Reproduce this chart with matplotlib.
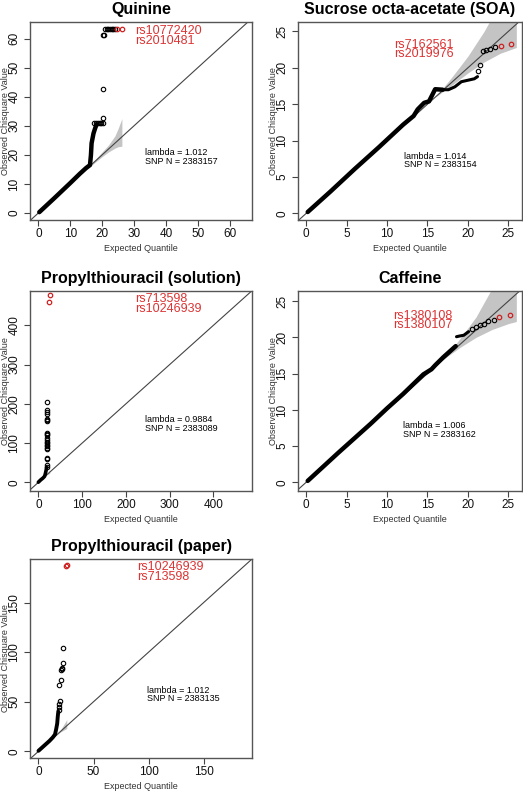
import matplotlib
matplotlib.use("Agg")
import matplotlib.pyplot as plt

plt.rcParams['font.family'] = ['Liberation Sans', 'DejaVu Sans']

# ---- Quinine ----
q_body_x = [0.3, 5, 10, 13, 15, 16.2, 16.5, 16.7, 17.3, 17.8, 18.3]
q_body_y = [0.3, 5.1, 10.3, 13.5, 15.5, 16.5, 20, 24, 27.4, 29.1, 30.6]
q_pts_x = [17.6, 18.2, 18.8, 19.3, 19.8, 20.2, 20.4, 20.4, 20.3, 20.7,
           21.0, 21.5, 22.0, 22.5, 23.0, 23.5, 24.1]
q_pts_y = [30.8, 30.8, 30.8, 30.8, 30.8, 30.8, 32.7, 42.5, 61.4, 61.4,
           63.3, 63.3, 63.3, 63.3, 63.3, 63.3, 63.3]
q_red_x = [24.8, 26.2]
q_red_y = [63.3, 63.3]
q_band_x = [15, 18, 20, 22, 24, 25, 26.2]
q_band_lo = [15, 17.6, 19.4, 21.0, 22.3, 22.8, 23.0]
q_band_hi = [15, 18.6, 21.0, 23.4, 26.5, 29.0, 32.5]

# ---- Sucrose octa-acetate ----
s_body_x = [0.2, 3, 6, 9, 12, 13.3, 13.8, 14.6, 15.2, 15.96, 16.9]
s_body_y = [0.2, 3.0, 6.1, 9.1, 12.2, 13.4, 14.3, 15.2, 15.4, 17.07, 17.0]
s_tail_x = [16.9, 17.6, 18.4, 19.2, 20.0, 20.8, 21.2]
s_tail_y = [17.0, 17.0, 17.4, 18.1, 18.3, 18.5, 18.8]
s_pts_x = [21.3, 21.5, 21.9, 22.3, 22.7, 23.3]
s_pts_y = [19.6, 20.4, 22.3, 22.5, 22.6, 22.8]
s_red_x = [24.1, 25.4]
s_red_y = [23.0, 23.25]
s_band_x = [16, 18, 20, 22, 24, 26]
s_band_lo = [16, 17.6, 19.3, 20.8, 22.0, 22.8]
s_band_hi = [16, 18.7, 21.6, 25.0, 29.0, 33.0]

# ---- Propylthiouracil (solution) ----
ps_body_x = [0, 5, 10, 14, 15, 16, 17, 18, 19]
ps_body_y = [0.5, 6, 10.5, 15, 18, 22, 27, 32, 38]
ps_pts_x = [19.5, 20, 19.8, 20.2, 19.6, 20, 20.3, 19.8, 20.1, 20, 19.7, 20.2,
            20, 19.9, 20.2, 19.8, 20, 20.1, 19.9, 20.2, 20.4, 20.8]
ps_pts_y = [40, 45, 60, 62, 85, 88, 92, 95, 100, 104, 108, 112,
            120, 124, 126, 155, 158, 162, 175, 180, 185, 205]
ps_red_x = [24.5, 25.7]
ps_red_y = [460, 476]
ps_band_x = [15, 20, 26]
ps_band_lo = [15, 19.5, 23]
ps_band_hi = [15, 21, 32]

# ---- Caffeine ----
c_body_x = [0.2, 4, 8, 10, 12, 14.5, 15.5, 16, 17, 18, 18.5]
c_body_y = [0.2, 4.1, 8.1, 10.2, 12.2, 14.9, 15.6, 16.2, 17.3, 18.3, 18.8]
c_tail_x = [18.6, 19.0, 19.5, 20.1]
c_tail_y = [20.1, 20.2, 20.3, 20.8]
c_pts_x = [20.5, 21.0, 21.5, 22.0, 22.5, 23.2]
c_pts_y = [21.1, 21.4, 21.7, 21.9, 22.2, 22.4]
c_red_x = [23.9, 25.2]
c_red_y = [22.8, 23.1]
c_band_x = [17, 19, 21, 23, 25, 26]
c_band_lo = [17, 18.6, 20.0, 21.1, 21.9, 22.2]
c_band_hi = [17, 19.8, 22.8, 26.8, 31.0, 33.0]

# ---- Propylthiouracil (paper) ----
pp_body_x = [0, 5, 10, 13, 15, 16, 17, 17.5, 18]
pp_body_y = [0.5, 5.5, 10.5, 14, 17, 22, 28, 35, 40]
pp_pts_x = [18.3, 18.6, 19.0, 19.5, 18.6, 20.1, 20.1, 21.2, 21.7, 22.3, 22.6]
pp_pts_y = [42, 45, 48, 50.5, 67.3, 72.4, 82.5, 83, 84.2, 89.3, 104.4]
pp_red_x = [24.8, 26.3]
pp_red_y = [187, 187.7]
pp_band_x = [15, 20, 25.7]
pp_band_lo = [15, 19.5, 23]
pp_band_hi = [15, 21.5, 32]

fig = plt.figure(figsize=(5.23, 7.92), dpi=100)


def qq_panel(rect, title, lims, ticks, body_x, body_y, pts_x, pts_y, red_x, red_y,
             band_x, band_lo, band_hi, snps, lam, nsnp, red_pos, lam_pos,
             tail_x=None, tail_y=None, body_lw=3.2, red_gap=0.8):
    ax = fig.add_axes(rect)
    xl, yl = lims
    ax.fill_between(band_x, band_lo, band_hi, color="#c4c4c4", lw=0, zorder=1)
    ax.plot([-1000, 1000], [-1000, 1000], color="#444444", lw=0.8, zorder=2)
    ax.plot(body_x, body_y, color="black", lw=body_lw, solid_capstyle="round", zorder=3)
    if tail_x is not None:
        ax.plot(tail_x, tail_y, color="black", lw=2.2, solid_capstyle="round", zorder=3)
    ax.plot(pts_x, pts_y, "o", mfc="none", mec="black", ms=3.2, mew=0.8, zorder=4)
    ax.plot(red_x, red_y, "o", mfc="none", mec="#cc2222", ms=3.2, mew=0.9, zorder=5)
    ax.set_xlim(xl)
    ax.set_ylim(yl)
    ax.set_xticks(ticks)
    ax.set_yticks(ticks)
    for lab in ax.get_yticklabels():
        lab.set_rotation(90)
        lab.set_va("center")
    ax.tick_params(labelsize=8.5, length=4, width=0.8, color="#444444",
                   labelcolor="#111111")
    ax.tick_params(axis="y", pad=3)
    ax.tick_params(axis="x", pad=2)
    for s in ax.spines.values():
        s.set_color("#555555")
        s.set_linewidth(1.0)
    ax.set_title(title, fontsize=11.5, fontweight="bold", pad=6)
    ax.set_xlabel("Expected Quantile", fontsize=6.5, color="#333333")
    ax.set_ylabel("Observed Chisquare Value", fontsize=6.5, color="#333333")
    h = rect[3] * 792
    w = rect[2] * 523
    ax.xaxis.set_label_coords(0.5, -28.0 / h)
    ax.yaxis.set_label_coords(-25.0 / w, 0.5)
    for lab in (ax.xaxis.label, ax.yaxis.label):
        lab.set_va("center")
    rx, ry = red_pos
    ax.text(rx, ry, snps[0] + "\n" + snps[1], color="#dd3333", fontsize=9,
            va="center", ha="left", linespacing=red_gap)
    lx, ly = lam_pos
    ax.text(lx, ly, "lambda = " + lam + "\nSNP N = " + nsnp, fontsize=6.5,
            va="center", ha="left", linespacing=0.95)
    return ax


qq_panel([0.0574, 0.7222, 0.4245, 0.25], "Quinine",
         ((-2.6, 67), (-2.4, 65.7)), [0, 10, 20, 30, 40, 50, 60],
         q_body_x, q_body_y, q_pts_x, q_pts_y, q_red_x, q_red_y,
         q_band_x, q_band_lo, q_band_hi,
         ["rs10772420", "rs2010481"], "1.012", "2383157",
         (30.3, 61.0), (33.4, 19.3))

qq_panel([0.5698, 0.7222, 0.4283, 0.25], "Sucrose octa-acetate (SOA)",
         ((-1.0, 26.7), (-0.9, 26.3)), [0, 5, 10, 15, 20, 25],
         s_body_x, s_body_y, s_pts_x, s_pts_y, s_red_x, s_red_y,
         s_band_x, s_band_lo, s_band_hi,
         ["rs7162561", "rs2019976"], "1.014", "2383154",
         (10.9, 22.5), (12.1, 7.3),
         tail_x=s_tail_x, tail_y=s_tail_y, red_gap=0.66)

qq_panel([0.0574, 0.380, 0.4245, 0.2525], "Propylthiouracil (solution)",
         ((-19, 488), (-22, 487)), [0, 100, 200, 300, 400],
         ps_body_x, ps_body_y, ps_pts_x, ps_pts_y, ps_red_x, ps_red_y,
         ps_band_x, ps_band_lo, ps_band_hi,
         ["rs713598", "rs10246939"], "0.9884", "2383089",
         (221, 455), (244, 148), body_lw=2.6)

qq_panel([0.5698, 0.380, 0.4283, 0.2525], "Caffeine",
         ((-1.0, 26.7), (-1.2, 26.4)), [0, 5, 10, 15, 20, 25],
         c_body_x, c_body_y, c_pts_x, c_pts_y, c_red_x, c_red_y,
         c_band_x, c_band_lo, c_band_hi,
         ["rs1380108", "rs1380107"], "1.006", "2383162",
         (10.8, 22.3), (12.0, 7.2),
         tail_x=c_tail_x, tail_y=c_tail_y, red_gap=0.66)

qq_panel([0.0574, 0.0429, 0.4245, 0.2513], "Propylthiouracil (paper)",
         ((-7.7, 194), (-6.8, 194)), [0, 50, 100, 150],
         pp_body_x, pp_body_y, pp_pts_x, pp_pts_y, pp_red_x, pp_red_y,
         pp_band_x, pp_band_lo, pp_band_hi,
         ["rs10246939", "rs713598"], "1.012", "2383135",
         (89.7, 181), (99, 57.3), body_lw=2.8)

fig.savefig("out.png", dpi=100)
